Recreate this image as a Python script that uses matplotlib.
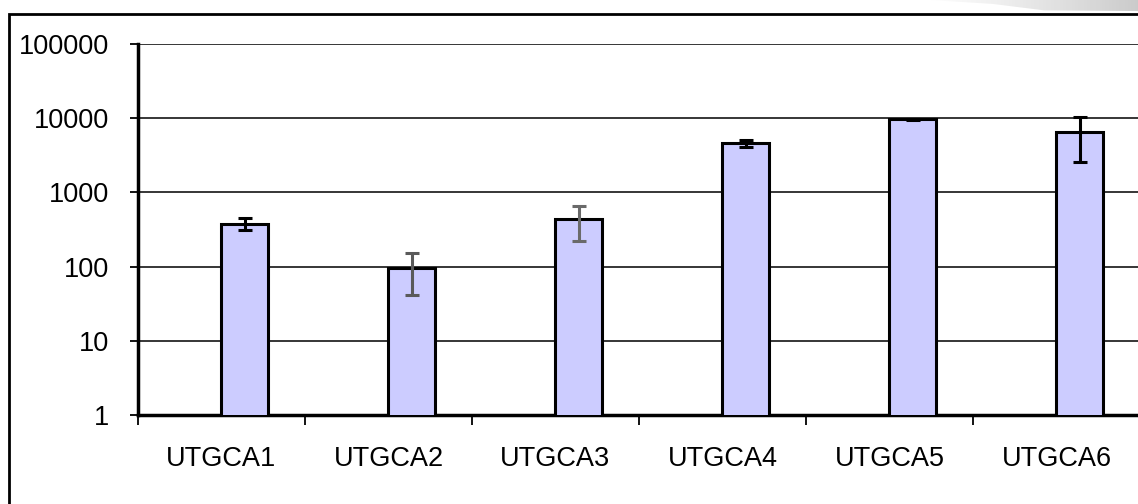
import numpy as np
import matplotlib
matplotlib.use('Agg')
import matplotlib.pyplot as plt
from matplotlib.patches import Rectangle, Polygon
from matplotlib.ticker import FixedLocator, FuncFormatter, NullLocator

categories = ['UTGCA1', 'UTGCA2', 'UTGCA3', 'UTGCA4', 'UTGCA5', 'UTGCA6']
values = [380, 97, 437, 4580, 9650, 6450]
errors = [65, 55, 215, 500, 200, 3900]
err_colors = ['black', '#5a5a5a', '#6a6a6a', 'black', 'black', 'black']

plt.rcParams['font.family'] = ['Liberation Sans', 'DejaVu Sans']

fig = plt.figure(figsize=(11.38, 5.04), dpi=100)

# outer frame of the chart object (runs off the right/bottom of the picture)
frame = Rectangle((9 / 1138, -0.1), 1.2, 1 - 14 / 504 + 0.1, transform=fig.transFigure,
                  fill=False, edgecolor='black', linewidth=2, zorder=0)
fig.patches.append(frame)

# grey shadow in the top right corner
grad_ax = fig.add_axes([930 / 1138, 1 - 13 / 504, 208 / 1138, 13 / 504])
grad_ax.set_xlim(0, 1)
grad_ax.set_ylim(0, 1)
grad_ax.axis('off')
g = np.linspace(0, 1, 256) ** 0.8
img = grad_ax.imshow(np.tile(g, (2, 1)), extent=[0, 1, 0, 1], aspect='auto',
                     cmap='Greys', vmin=0, vmax=3.2, origin='lower')
shadow = Polygon([(0, 1), (1, 1), (1, 0.15), (0.55, 0.2), (0.3, 0.7)], closed=True,
                 transform=grad_ax.transData)
img.set_clip_path(shadow)

ax = fig.add_axes([138 / 1138, 89 / 504, 1002 / 1138, 371 / 504])
x = np.arange(len(categories))
ax.bar(x, values, width=0.28, align='edge', color='#ccccff', edgecolor='black',
       linewidth=2.2, zorder=3)
for i in range(len(categories)):
    _, caps, bars = ax.errorbar(x[i] + 0.14, values[i], yerr=errors[i], fmt='none',
                                ecolor=err_colors[i], elinewidth=2.2, capsize=5,
                                capthick=2.2, zorder=4)
    for c in caps:
        c.set_color('black')

ax.set_yscale('log')
ax.set_ylim(1, 100000)
ax.set_xlim(-0.5, 5.5)
ax.yaxis.set_major_locator(FixedLocator([1, 10, 100, 1000, 10000, 100000]))
ax.yaxis.set_minor_locator(NullLocator())
ax.yaxis.set_major_formatter(FuncFormatter(lambda v, p: '%d' % v))
ax.grid(axis='y', color='black', linewidth=1.1, zorder=1)

ax.xaxis.set_major_locator(FixedLocator(np.arange(-0.5, 6.0, 1.0)))
ax.xaxis.set_major_formatter(FuncFormatter(lambda v, p: ''))
ax.xaxis.set_minor_locator(FixedLocator(x))
ax.set_xticklabels(categories, minor=True)
ax.tick_params(axis='x', which='major', length=7, width=1.3, direction='out')
ax.tick_params(axis='x', which='minor', length=0, pad=22, labelsize=19.5)
ax.tick_params(axis='y', length=6, width=1.3, direction='out', pad=15, labelsize=19.5)

ax.spines['top'].set_visible(False)
ax.spines['right'].set_visible(False)
ax.spines['left'].set_linewidth(2.5)
ax.spines['bottom'].set_linewidth(2.5)
ax.set_axisbelow(True)

fig.savefig('out.png', dpi=100)
